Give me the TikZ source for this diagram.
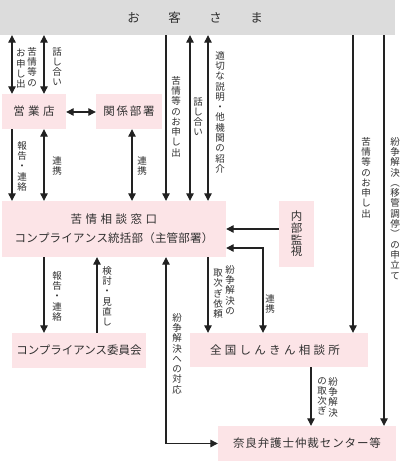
\documentclass[tikz,border=0pt]{standalone}
\usepackage{fontspec}
\setmainfont{Noto Sans CJK JP}
\usetikzlibrary{arrows.meta,calc}
\definecolor{pinkbox}{HTML}{FCE4E7}
\definecolor{graybar}{HTML}{DCDCDC}
\definecolor{ink}{HTML}{222222}
\definecolor{txt}{HTML}{303030}
\ExplSyntaxOn
\NewDocumentCommand\vt{O{10.3pt}m}{\vtop{\baselineskip=#1\lineskiplimit=-20pt\lineskip=0pt\tl_map_inline:nn{#2}{\hbox to 1em{\hss##1\hss}}}}
\NewDocumentCommand\ls{mm}{\tl_map_inline:nn{#2}{##1\kern#1}\kern-#1}
\ExplSyntaxOff
\begin{document}
\begin{tikzpicture}[x=1pt,y=-1pt,
  box/.style={fill=pinkbox,draw=none,inner sep=0pt,text=txt,font=\fontsize{11.5}{13}\selectfont},
  arr/.style={draw=ink,line width=1.15pt,-{Triangle[length=7.5pt,width=7.5pt]}},
  dbl/.style={draw=ink,line width=1.15pt,{Triangle[length=7.5pt,width=7.5pt]}-{Triangle[length=7.5pt,width=7.5pt]}},
  lab/.style={inner sep=0pt,anchor=north,text=txt,font=\fontsize{9.5}{10}\selectfont}]
\useasboundingbox (0,0) rectangle (401,462);
\fill[white] (0,0) rectangle (401,462);
% boxes
\node[fill=graybar,minimum width=395pt,minimum height=35pt,inner sep=0pt,text=txt,font=\fontsize{12.5}{14}\selectfont] (top) at (197.5,17.5) {\ls{28.5pt}{お客さま}\kern5pt};
\node[box,minimum width=64pt,minimum height=35pt] (eigyo) at (34,111.5) {\ls{3.5pt}{営業店}};
\node[box,minimum width=66pt,minimum height=35pt] (kankei) at (129,111.5) {\ls{1.8pt}{関係部署}};
\node[box,minimum width=224pt,minimum height=56pt,align=center,font=\fontsize{11.5}{19}\selectfont] (main) at (114,229) {\ls{3.5pt}{苦情相談窓口}\\\ls{0.2pt}{コンプライアンス統括部（主管部署）}};
\node[box,minimum width=35pt,minimum height=66pt] (naibu) at (296.5,234) {\vt[11.6pt]{内部監視}};
\node[box,minimum width=134pt,minimum height=35pt] (comp) at (79,350.5) {コンプライアンス委員会};
\node[box,minimum width=178pt,minimum height=34pt] (zenkoku) at (279,350) {\ls{3.3pt}{全国しんきん相談所}\kern8pt};
\node[box,minimum width=178pt,minimum height=35pt] (nara) at (307,443.5) {\ls{0.9pt}{奈良弁護士仲裁センター等}};
% x / y reference coordinates
\coordinate (c12) at (12,0);
\coordinate (c44) at (44,0);
\coordinate (c97) at (97,0);
\coordinate (c132) at (132,0);
\coordinate (c166) at (166,0);
\coordinate (c190) at (190,0);
\coordinate (c208) at (208,0);
\coordinate (c263) at (263,0);
\coordinate (c311) at (311,0);
\coordinate (c353) at (353,0);
\coordinate (c384) at (384,0);
\coordinate (y112) at (0,112);
\coordinate (y229) at (0,229);
\coordinate (y248) at (0,248);
% connectors
\draw[dbl] (top.south -| c12) -- (eigyo.north -| c12);
\draw[dbl] (top.south -| c44) -- (eigyo.north -| c44);
\draw[dbl] (eigyo.east |- y112) -- (kankei.west |- y112);
\draw[arr] (eigyo.south -| c12) -- (main.north -| c12);
\draw[dbl] (eigyo.south -| c44) -- (main.north -| c44);
\draw[dbl] (kankei.south -| c132) -- (main.north -| c132);
\draw[arr] (top.south -| c166) -- (main.north -| c166);
\draw[dbl] (top.south -| c190) -- (main.north -| c190);
\draw[dbl] (top.south -| c208) -- (main.north -| c208);
\draw[arr] (top.south -| c353) -- (zenkoku.north -| c353);
\draw[arr] (top.south -| c384) -- (nara.north -| c384);
\draw[arr] (naibu.west |- y229) -- (main.east |- y229);
\draw[dbl] (main.east |- y248) -| (zenkoku.north -| c263);
\draw[arr] (main.south -| c208) -- (zenkoku.north -| c208);
\draw[arr] (main.south -| c44) -- (comp.north -| c44);
\draw[arr] (comp.north -| c97) -- (main.south -| c97);
\draw[dbl] (main.south -| c166) |- (nara.west);
\draw[arr] (zenkoku.south -| c311) -- (nara.north -| c311);
% labels
\node[lab] (l1) at (32,47) {\vt{苦情等の}};
\node[lab] (l2) at (21,49) {\vt{お申し出}};
\node[lab] (l3) at (57,47) {\vt{話し合い}};
\node[lab] (l4) at (22,141) {\vt{報告・連絡}};
\node[lab] (l5) at (57,156) {\vt{連携}};
\node[lab] (l6) at (142,156) {\vt{連携}};
\node[lab] (l7) at (176,76) {\vt{苦情等のお申し出}};
\node[lab] (l8) at (198,97) {\vt{話し合い}};
\node[lab] (l9) at (220,51) {\vt{適切な説明・他機関の紹介}};
\node[lab] (l10) at (366,137) {\vt{苦情等のお申し出}};
\node[lab] (l11) at (395,137) {\vt{紛争解決︵移管調停︶の申立て}};
\node[lab] (l12) at (57,271) {\vt{報告・連絡}};
\node[lab] (l13) at (107,266) {\vt{検討・見直し}};
\node[lab] (l14) at (177,313) {\vt{紛争解決への対応}};
\node[lab] (l15) at (230,265) {\vt{紛争解決の}};
\node[lab] (l16) at (218,269) {\vt{取次ぎ依頼}};
\node[lab] (l17) at (270,294) {\vt{連携}};
\node[lab] (l18) at (333,377) {\vt{紛争解決}};
\node[lab] (l19) at (322,377) {\vt{の取次ぎ}};
\end{tikzpicture}
\end{document}
